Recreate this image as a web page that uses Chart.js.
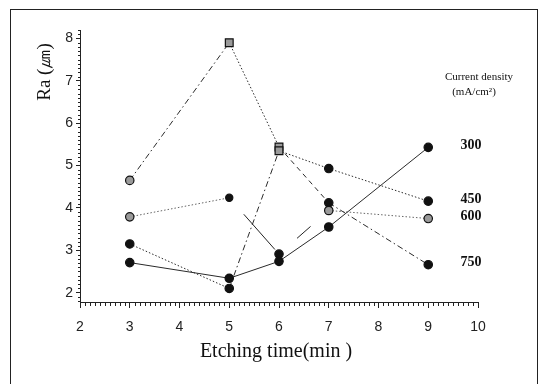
<!DOCTYPE html>
<html>
<head>
<meta charset="utf-8">
<script src="https://cdn.jsdelivr.net/npm/chart.js@4/dist/chart.umd.min.js"></script>
<style>
    body { margin: 0; background: #fff; }
    #wrap { position: relative; width: 540px; height: 384px; overflow: hidden; }
    #frame { position: absolute; left: 10px; top: 9px; width: 526px; height: 400px; border: 1px solid #222; border-bottom: none; }
    canvas { position: absolute; left: 0; top: 0; }
</style>
</head>
<body>
<div id="wrap">
    <div id="frame"></div>
    <canvas id="chart" width="540" height="384"></canvas>
</div>
<script>
// etching time (min) and Ra for each current density (mA/cm2)
const etchTimes = [3, 5, 6, 7, 9];
const ra300 = [2.71, 2.34, 2.74, 3.55, 5.43];
const ra450 = [3.15, 2.10, 5.35, 4.93, 4.16];
const ra600 = [3.79, 4.24, 2.91, 3.94, 3.75];
const ra750 = [4.65, 7.90, 5.44, 4.12, 2.66];
const densityLabels = ['300', '450', '600', '750'];
const xTicks = [2, 3, 4, 5, 6, 7, 8, 9, 10];
const yTicks = [2, 3, 4, 5, 6, 7, 8];

const BLACK = '#111';
const GRAY = '#9a9a9a';
const SERIF = '"Liberation Serif", "DejaVu Serif", serif';
const SANS = '"Liberation Sans", Arial, sans-serif';

const DOT = [1.5, 2];
const DASHDOT = [6, 3, 1.5, 3];
const DASH = [5, 4];

function points(values) {
    return etchTimes.map((t, i) => ({ x: t, y: values[i] }));
}

function series(values, opts) {
    return Object.assign({
        data: points(values),
        borderColor: '#2a2a2a',
        borderWidth: 1,
        pointRadius: 4.2,
        pointBorderColor: '#111',
        pointBorderWidth: 1.2,
        fill: false,
        tension: 0
    }, opts);
}

const minorTicks = {
    id: 'minorTicks',
    afterDraw(chart) {
        const ctx = chart.ctx;
        const x = chart.scales.x, y = chart.scales.y;
        ctx.save();
        ctx.strokeStyle = '#222';
        ctx.lineWidth = 1;
        ctx.beginPath();
        for (let i = 20; i <= 100; i++) {
            if (i % 10 === 0) continue;
            const px = Math.round(x.getPixelForValue(i / 10)) + 0.5;
            ctx.moveTo(px, y.bottom);
            ctx.lineTo(px, y.bottom + 4);
        }
        for (let i = 18; i <= 82; i++) {
            if (i % 10 === 0) continue;
            const py = Math.round(y.getPixelForValue(i / 10)) + 0.5;
            ctx.moveTo(x.left, py);
            ctx.lineTo(x.left - 2, py);
        }
        ctx.stroke();
        ctx.restore();
    }
};

const texts = {
    id: 'texts',
    afterDraw(chart) {
        const ctx = chart.ctx;
        const y = chart.scales.y;
        ctx.save();
        ctx.fillStyle = '#111';
        ctx.textAlign = 'center';
        ctx.textBaseline = 'middle';

        ctx.font = '20px ' + SERIF;
        ctx.fillText('Etching time(min )', 276, 352);

        ctx.save();
        ctx.translate(45, 72);
        ctx.rotate(-Math.PI / 2);
        ctx.font = '19px ' + SERIF;
        ctx.fillText('Ra (㎛)', 0, 0);
        ctx.restore();

        ctx.font = '11px ' + SERIF;
        ctx.fillText('Current density', 479, 77);
        ctx.fillText('(mA/cm²)', 474, 92);

        ctx.font = 'bold 14px ' + SERIF;
        const lasts = [ra300, ra450, ra600, ra750].map(v => v[v.length - 1]);
        densityLabels.forEach((lab, i) => {
            ctx.fillText(lab, 471, y.getPixelForValue(lasts[i]) - 2);
        });
        ctx.restore();
    }
};

const ctx = document.getElementById('chart').getContext('2d');
new Chart(ctx, {
    type: 'line',
    data: {
        datasets: [
            series(ra300, {
                label: densityLabels[0],
                pointBackgroundColor: BLACK,
                pointStyle: 'circle'
            }),
            series(ra450, {
                label: densityLabels[1],
                pointBackgroundColor: [BLACK, BLACK, GRAY, BLACK, BLACK],
                pointStyle: ['circle', 'circle', 'rect', 'circle', 'circle'],
                pointRadius: [4.2, 4.2, 5.5, 4.2, 4.2],
                segment: { borderDash: c => [DOT, DASHDOT, DOT, DOT][c.p0DataIndex] }
            }),
            series(ra600, {
                label: densityLabels[2],
                pointBackgroundColor: [GRAY, BLACK, BLACK, GRAY, GRAY],
                pointRadius: [4.2, 3.6, 4.2, 4.2, 4.2],
                pointStyle: 'circle',
                borderColor: '#555',
                segment: {
                    borderDash: c => [DOT, [47, 22], [18, 24], DOT][c.p0DataIndex],
                    borderDashOffset: c => [0, 47, 18, 0][c.p0DataIndex],
                    borderColor: c => [1, 2].includes(c.p0DataIndex) ? '#222' : '#666'
                }
            }),
            series(ra750, {
                label: densityLabels[3],
                pointBackgroundColor: [GRAY, GRAY, GRAY, BLACK, BLACK],
                pointStyle: ['circle', 'rect', 'rect', 'circle', 'circle'],
                pointRadius: [4.2, 5.5, 5.5, 4.2, 4.2],
                segment: { borderDash: c => [DASHDOT, DOT, DASH, DASHDOT][c.p0DataIndex] }
            })
        ]
    },
    options: {
        responsive: false,
        animation: false,
        layout: { padding: { left: 10, top: 30, right: 62, bottom: 0 } },
        plugins: {
            legend: { display: false },
            tooltip: { enabled: false }
        },
        scales: {
            x: {
                type: 'linear',
                min: 2,
                max: 10,
                afterFit: s => { s.height = 82; },
                afterBuildTicks: s => { s.ticks = xTicks.map(v => ({ value: v })); },
                border: { display: true, color: '#222', width: 1 },
                grid: { drawOnChartArea: false, drawTicks: true, tickLength: 6, color: '#222' },
                ticks: { color: '#222', padding: 11, font: { family: SANS, size: 14 } }
            },
            y: {
                type: 'linear',
                min: 1.78,
                max: 8.2,
                afterFit: s => { s.width = 70; },
                afterBuildTicks: s => { s.ticks = yTicks.map(v => ({ value: v })); },
                border: { display: true, color: '#222', width: 1 },
                grid: { drawOnChartArea: false, drawTicks: true, tickLength: 4, color: '#222' },
                ticks: { color: '#222', padding: 3, font: { family: SANS, size: 14 } }
            }
        }
    },
    plugins: [minorTicks, texts]
});
</script>
</body>
</html>
